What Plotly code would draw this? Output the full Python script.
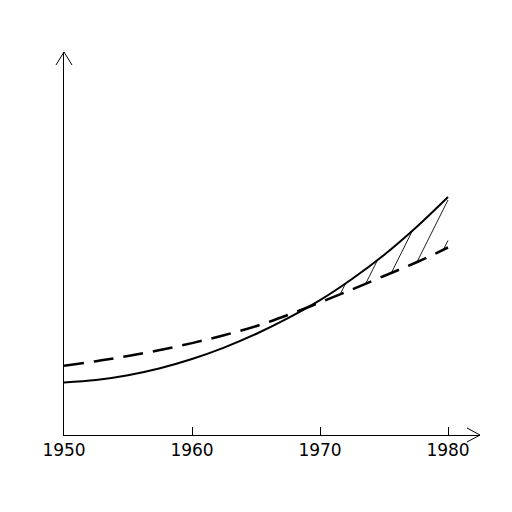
import numpy as np
import plotly.graph_objects as go

# --- Data ---
years = [1950, 1952.5, 1955, 1957.5, 1960, 1962.5, 1965, 1967.5, 1970, 1972.5, 1975, 1977.5, 1980]
solid_vals = [52.5, 55.0, 59.8, 66.8, 76.0, 87.4, 101.0, 116.8, 134.8, 156.0, 180.0, 207.5, 238.0]
dashed_vals = [69.3, 73.8, 79.0, 85.0, 91.9, 99.8, 108.8, 120.0, 132.5, 145.5, 159.0, 172.5, 187.5]
tick_years = [1950, 1960, 1970, 1980]

# hatch: steep parallel strokes between the curves once solid passes dashed
hatch_slope = 25.6      # value units per year
hatch_start = 1964.5    # where the first stroke meets zero
hatch_step = 1.58       # years between strokes
hatch_count = 6

W, H = 512, 512
ML, MR, MT, MB = 64, 32, 52, 77
plot_w = W - ML - MR
plot_h = H - MT - MB


def hatch_segments():
    xs = np.linspace(years[0], years[-1], 6001)
    lo = np.interp(xs, years, dashed_vals)
    hi = np.interp(xs, years, solid_vals)
    hx, hy = [], []
    for k in range(hatch_count):
        x0 = hatch_start + k * hatch_step
        line = hatch_slope * (xs - x0)
        above_lo = np.nonzero((line >= lo) & (hi >= lo))[0]
        if len(above_lo) == 0:
            continue
        i0 = above_lo[0]
        above_hi = np.nonzero(line[i0:] >= hi[i0:])[0]
        i1 = i0 + above_hi[0] if len(above_hi) else len(xs) - 1
        if i1 <= i0:
            continue
        hx += [xs[i0], xs[i1], None]
        hy += [line[i0], line[i1], None]
    return hx, hy


hx, hy = hatch_segments()

fig = go.Figure()
fig.add_trace(go.Scatter(x=hx, y=hy, mode="lines",
                         line=dict(color="#222", width=1), hoverinfo="skip"))
fig.add_trace(go.Scatter(x=years, y=dashed_vals, mode="lines",
                         line=dict(color="black", width=2.5, dash="20px,10px", shape="spline")))
fig.add_trace(go.Scatter(x=years, y=solid_vals, mode="lines",
                         line=dict(color="black", width=2, shape="spline")))

# open arrowheads at the ends of both axes
ax_dx, ax_dy = 13 / plot_w, 7 / plot_h
ay_dx, ay_dy = 8 / plot_w, 13 / plot_h
fig.add_shape(type="path", xref="paper", yref="paper",
              path=f"M {1 - ax_dx},{ax_dy} L 1,0 L {1 - ax_dx},{-ax_dy}",
              line=dict(color="black", width=1))
fig.add_shape(type="path", xref="paper", yref="paper",
              path=f"M {-ay_dx},{1 - ay_dy} L 0,1 L {ay_dx},{1 - ay_dy}",
              line=dict(color="black", width=1))

fig.update_layout(
    width=W, height=H,
    margin=dict(l=ML, r=MR, t=MT, b=MB),
    paper_bgcolor="white", plot_bgcolor="white",
    showlegend=False,
    font=dict(family="DejaVu Sans", color="black", size=17),
    xaxis=dict(range=[1950, 1982.5], tickvals=tick_years, ticks="inside",
               ticklen=8, tickcolor="black", tickwidth=1,
               showline=True, linecolor="black", linewidth=1,
               showgrid=False, zeroline=False, tickfont=dict(size=17)),
    yaxis=dict(range=[0, 383], showline=True, linecolor="black", linewidth=1,
               showticklabels=False, ticks="", showgrid=False, zeroline=False),
)

# drop the browser's default body margin so the figure sits at the page corner
fig.write_html("out.html", config={"displayModeBar": False},
               post_script="document.body.style.margin='0';")
